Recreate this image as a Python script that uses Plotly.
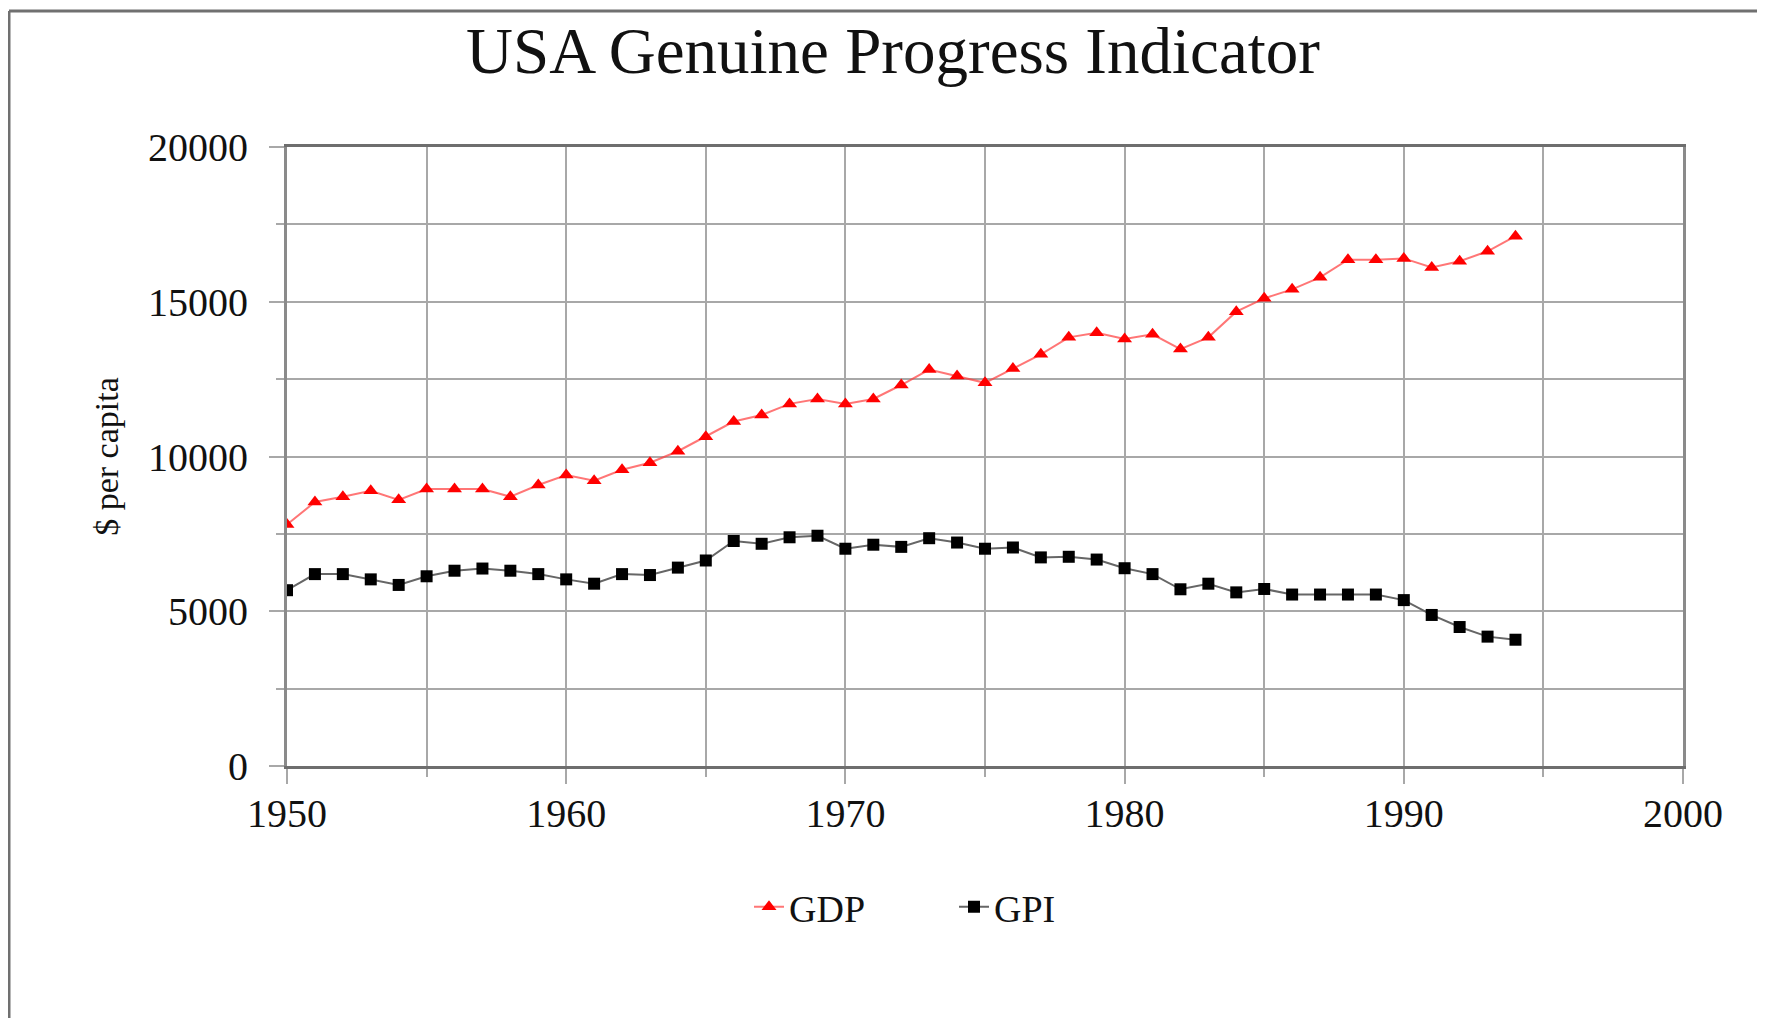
import plotly.graph_objects as go

years = list(range(1950, 1995))
gdp = [7800, 8530, 8700, 8890, 8600, 8950, 8950, 8950, 8700, 9080,
       9400, 9220, 9570, 9800, 10170, 10640, 11130, 11340, 11700, 11860,
       11700, 11860, 12310, 12810, 12600, 12380, 12840, 13300, 13850, 14000,
       13800, 13950, 13470, 13850, 14680, 15110, 15400, 15790, 16360, 16360,
       16400, 16110, 16310, 16630, 17120]
gpi = [5680, 6200, 6200, 6030, 5850, 6130, 6310, 6380, 6310, 6200,
       6030, 5890, 6200, 6170, 6410, 6640, 7270, 7180, 7390, 7440,
       7020, 7150, 7080, 7360, 7220, 7020, 7060, 6740, 6760, 6670,
       6390, 6200, 5710, 5890, 5610, 5720, 5540, 5540, 5540, 5540,
       5360, 4880, 4490, 4180, 4080]

title_text = "USA Genuine Progress Indicator"
y_title = "$ per capita"
x_ticks = [1950, 1960, 1970, 1980, 1990, 2000]
x_ticklabels = ["1950", "1960", "1970", "1980", "1990", "2000"]
y_ticks = [0, 5000, 10000, 15000, 20000]
y_ticklabels = ["0", "5000", "10000", "15000", "20000"]

FONT = "Liberation Serif, Times New Roman, serif"

fig = go.Figure()
fig.add_trace(go.Scatter(
    x=years, y=gdp, name="GDP", mode="lines+markers",
    line=dict(color="rgba(255,60,60,0.7)", width=2),
    marker=dict(symbol="triangle-up", size=13, color="#ff0000"),
))
fig.add_trace(go.Scatter(
    x=years, y=gpi, name="GPI", mode="lines+markers",
    line=dict(color="#666666", width=2),
    marker=dict(symbol="square", size=12, color="#000000"),
))

# page has an 8px body margin; figure coordinates are page coordinates - 8
W, H = 1757, 1010
L, R, T, B = 279, 82, 139, 252
pw, ph = W - L - R, H - T - B

def px_x(p):
    return (p - L) / pw

def px_y(p):
    return (H - B - p) / ph

fig.update_layout(
    width=W, height=H,
    margin=dict(l=L, r=R, t=T, b=B),
    paper_bgcolor="white", plot_bgcolor="white",
    font=dict(family=FONT, color="#111111"),
    title=dict(text=title_text, x=885 / W, xanchor="center",
               y=1 - 42 / H, yanchor="middle", yref="container",
               font=dict(size=65, family=FONT, color="#111111")),
    showlegend=True,
    legend=dict(orientation="h", x=px_x(741), xanchor="left",
                y=px_y(899), yanchor="middle",
                entrywidth=160, entrywidthmode="pixels",
                font=dict(size=38, family=FONT, color="#111111"),
                bgcolor="rgba(0,0,0,0)"),
    shapes=[
        dict(type="line", xref="paper", yref="paper",
             x0=px_x(1), x1=px_x(1), y0=px_y(3), y1=px_y(H + 5),
             line=dict(color="#707070", width=3)),
        dict(type="line", xref="paper", yref="paper",
             x0=px_x(1), x1=px_x(W + 5), y0=px_y(3), y1=px_y(3),
             line=dict(color="#707070", width=3)),
    ],
)

fig.update_xaxes(
    range=[1950, 2000], tickvals=x_ticks, ticktext=x_ticklabels,
    showgrid=True, gridcolor="#a8a8a8", gridwidth=2,
    ticks="outside", ticklen=15, tickwidth=2, tickcolor="#a8a8a8",
    minor=dict(dtick=5, tick0=1950, showgrid=True, gridcolor="#a8a8a8",
               gridwidth=2, ticks="outside", ticklen=8, tickcolor="#a8a8a8"),
    showline=True, linecolor="#6e6e6e", linewidth=3, mirror=True,
    tickfont=dict(size=40, family=FONT, color="#111111"),
    ticklabelstandoff=-5, zeroline=False,
)
fig.update_yaxes(
    range=[0, 20000], tickvals=y_ticks, ticktext=y_ticklabels,
    showgrid=True, gridcolor="#a8a8a8", gridwidth=2,
    ticks="outside", ticklen=15, tickwidth=2, tickcolor="#a8a8a8",
    minor=dict(dtick=2500, tick0=0, showgrid=True, gridcolor="#a8a8a8",
               gridwidth=2, ticks="outside", ticklen=8, tickcolor="#a8a8a8"),
    showline=True, linecolor="#8a8a8a", linewidth=3, mirror=True,
    tickfont=dict(size=40, family=FONT, color="#111111"),
    ticklabelstandoff=13, zeroline=False,
    title=dict(text=y_title, standoff=20,
               font=dict(size=34, family=FONT, color="#111111")),
)

fig.write_html("out.html")
